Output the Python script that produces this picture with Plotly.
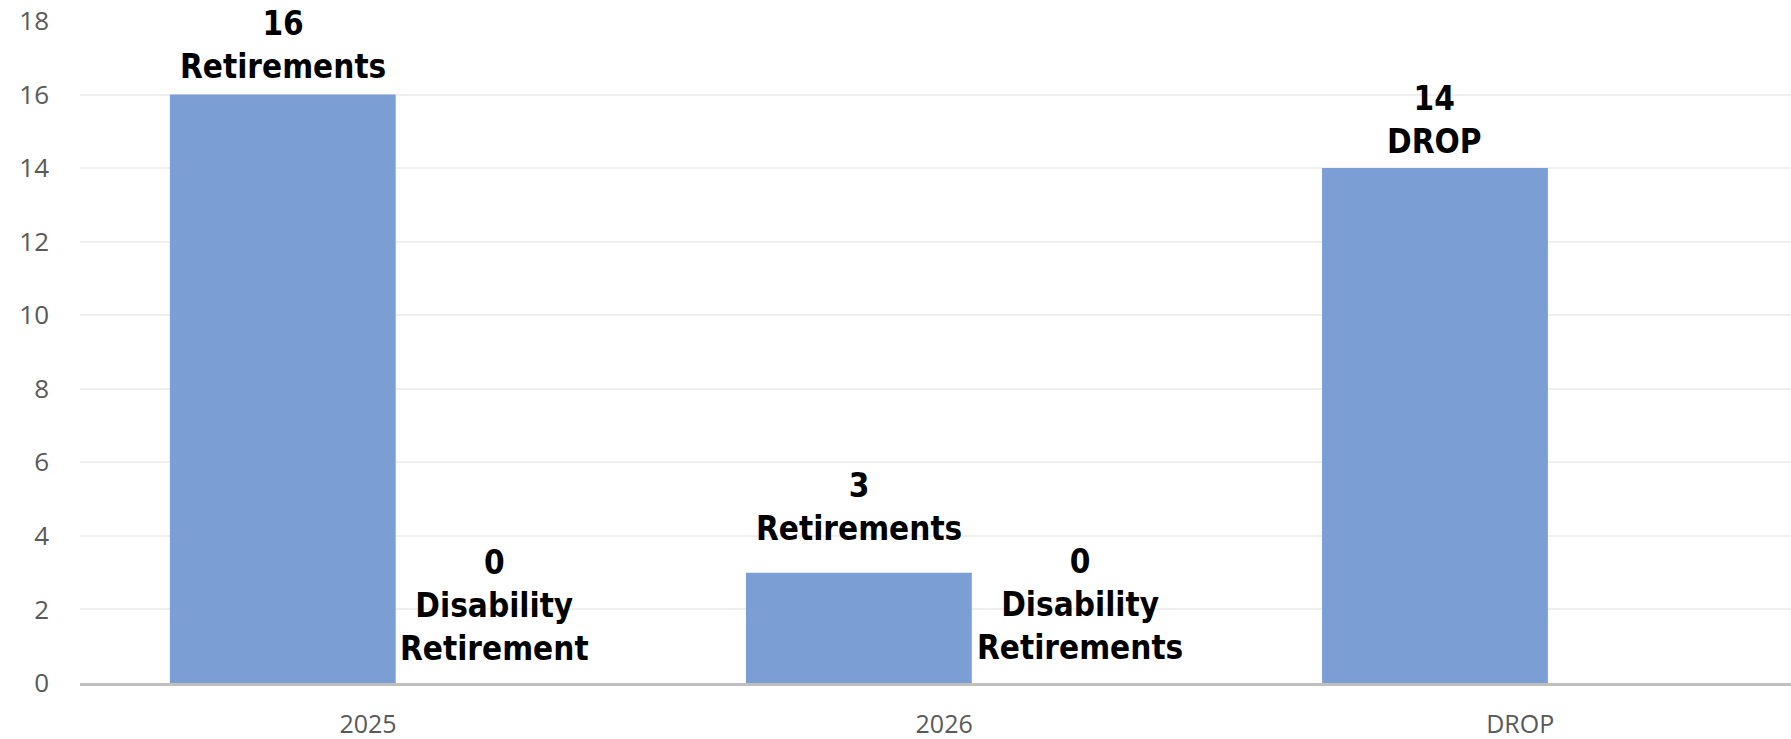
import plotly.graph_objects as go

categories = ["2025", "2026", "DROP"]
retirements = [16, 3, 14]
retirement_names = ["Retirements", "Retirements", "DROP"]
disability = [0, 0, None]
disability_names = ["Disability<br>Retirement", "Disability<br>Retirements", ""]
y_ticks = [0, 2, 4, 6, 8, 10, 12, 14, 16, 18]

# label placement styling (pixels), kept apart from the data
ret_label_yshift = [7, 23, 5]
dis_label_yshift = [13, 14, 0]
dis_label_xshift = [126, 136, 0]

bar_color = "rgb(123,158,213)"
label_font = dict(family="DejaVu Sans Condensed, Liberation Sans Narrow, sans-serif",
                  size=33, color="black", weight="bold")

BAR_W = 0.392
RET_OFF = -0.344
DIS_OFF = 0.03
PX_PER_CAT = 1711 / 2.97

fig = go.Figure()
fig.add_trace(go.Bar(
    x=categories, y=retirements,
    marker=dict(color=bar_color, line=dict(width=0)),
    width=BAR_W, offset=RET_OFF, name="Retirements", hoverinfo="x+y",
))
fig.add_trace(go.Bar(
    x=categories, y=disability,
    marker=dict(color=bar_color, line=dict(width=0)),
    width=BAR_W, offset=DIS_OFF, name="Disability Retirements", hoverinfo="x+y",
))

ret_center_px = (RET_OFF + BAR_W / 2) * PX_PER_CAT
for i, (v, n) in enumerate(zip(retirements, retirement_names)):
    fig.add_annotation(x=i, y=v, text=f"{v}<br>{n}", showarrow=False,
                       xanchor="center", yanchor="bottom",
                       xshift=ret_center_px, yshift=ret_label_yshift[i],
                       font=label_font, align="center")
for i, (v, n) in enumerate(zip(disability, disability_names)):
    if v is None:
        continue
    fig.add_annotation(x=i, y=v, text=f"{v}<br>{n}", showarrow=False,
                       xanchor="center", yanchor="bottom",
                       xshift=dis_label_xshift[i], yshift=dis_label_yshift[i],
                       font=label_font, align="center")

fig.update_layout(
    width=1791, height=739,
    margin=dict(l=80, r=0, t=21, b=56, autoexpand=False),
    plot_bgcolor="white", paper_bgcolor="white",
    barmode="overlay", showlegend=False,
    font=dict(family="Open Sans, Noto Sans, sans-serif", color="#595959", size=25),
)
fig.update_xaxes(
    type="category", range=[-0.5, 2.47], automargin=False,
    showgrid=False, showline=True, linecolor="#bfbfbf", linewidth=3,
    ticks="", ticklabelstandoff=17,
    tickfont=dict(size=25, color="#595959"),
)
fig.update_yaxes(
    range=[0, 18], tickvals=y_ticks, automargin=False,
    showgrid=True, gridcolor="#efefef", gridwidth=2,
    zeroline=False, showline=False, ticks="", ticklabelstandoff=30,
    tickfont=dict(size=26, color="#595959"),
)

fig.write_html("out.html", config={"displayModeBar": False},
               post_script="document.body.style.margin='0';document.body.style.overflow='hidden';")
